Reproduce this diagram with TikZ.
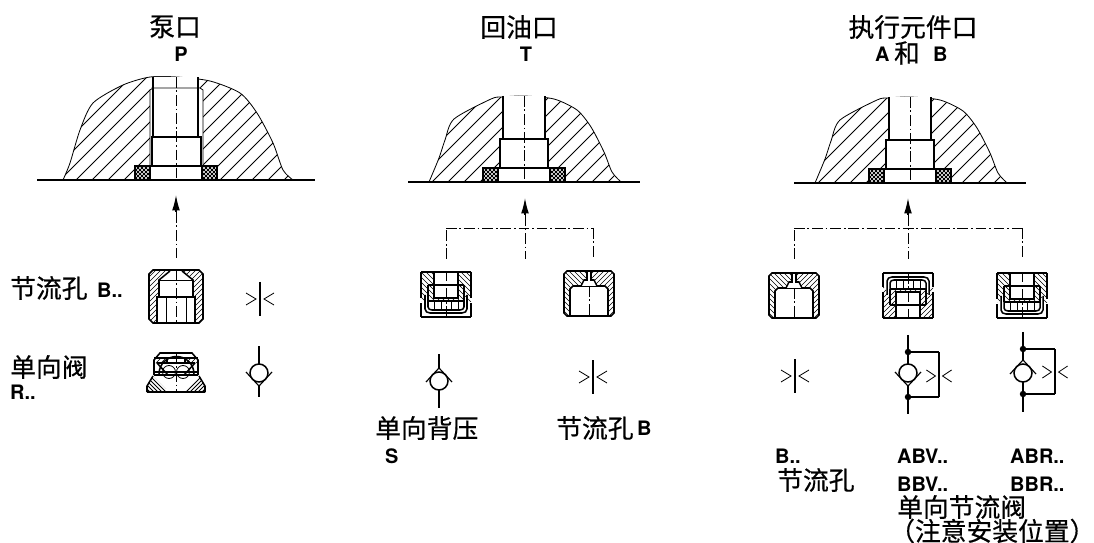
\documentclass[tikz,border=0pt]{standalone}
\usepackage{fontspec}
\setmainfont{TeX Gyre Heros}
\newfontfamily\cjk[FakeBold=0.5]{Noto Sans CJK SC}
\usetikzlibrary{calc, positioning, arrows.meta}
\tikzstyle{thinline}=[line width=0.7pt]
\tikzstyle{hatchline}=[line width=0.5pt]
\tikzstyle{boldline}=[line width=1.3pt]
\tikzstyle{symline}=[line width=1pt]
\tikzstyle{axisline}=[line width=0.7pt,dash pattern=on 9pt off 2.5pt on 1.5pt off 2.5pt]
\tikzstyle{cjklabel}=[font=\cjk\fontsize{22}{22}\selectfont,inner sep=0pt]
\tikzstyle{romanlabel}=[font=\bfseries\fontsize{17}{17}\selectfont,inner sep=0pt]
\tikzstyle{junction}=[circle,fill=black,inner sep=0pt,minimum size=5.5pt]
\tikzstyle{flowarrow}=[-{Latex[length=4.6mm,width=2.3mm]},line width=1pt]
\newcommand{\slashfill}[1]{\foreach \k in {-130,-125,...,130} \draw[hatchline] (\k,#1) -- ++(80,-80);}
\newcommand{\backfill}[1]{\foreach \k in {-130,-125,...,130} \draw[hatchline] (\k,#1) -- ++(-80,-80);}
\newcommand{\sealmesh}{
	\begin{scope}
		\clip (-41,0) rectangle (-26,-14) (26,0) rectangle (41,-14);
		\foreach \k in {-80,-76,...,80} \draw[thinline] (\k,10) -- ++(30,-30) (\k,10) -- ++(-30,-30);
	\end{scope}
	\draw[boldline] (-41,0) rectangle (-26,-14) (26,0) rectangle (41,-14);
}
\newcommand{\portbore}{
	\fill[white] (-21,-86) rectangle (21,-43) (-24,-43) rectangle (24,-14) (-41,-14) rectangle (41,0);
	\draw[boldline] (-21,-86) -- (-21,-43) -- (21,-43) -- (21,-86);
	\draw[boldline] (-24,-14) -- (-24,-43) -- (24,-43) -- (24,-14);
	\draw[boldline] (-41,0) -- (-41,-14) -- (41,-14) -- (41,0);
	\sealmesh
	\draw[axisline] (0,-86) -- (0,0);
}
\tikzset{
	pics/domeplain/.style={code={
		\begin{scope}
			\clip plot[smooth,tension=0.45] coordinates {(-95,0) (-85,-24) (-79,-42) (-70,-63) (-33,-83) (-22,-85) (0,-86) (30,-83) (53,-72) (67,-55) (80,-30) (88,-10) (97,0)} -- cycle;
			\foreach \k in {-220,-204,...,100} \draw[thinline] (\k,0) -- ++(120,-120);
		\end{scope}
		\draw[thinline] plot[smooth,tension=0.45] coordinates {(-95,0) (-85,-24) (-79,-42) (-70,-63) (-33,-83) (-22,-85) (0,-86) (30,-83) (53,-72) (67,-55) (80,-30) (88,-10) (97,0)};
		\portbore
		\draw[boldline] (-116,0) -- (116,0);
	}},
	pics/domewide/.style={code={
		\begin{scope}
			\clip plot[smooth,tension=0.45] coordinates {(-113,0) (-106,-17) (-96,-50) (-83,-77) (-53,-95) (-26,-103) (1,-103) (34,-99) (64,-87) (81,-67) (97,-37) (107,-10) (117,0)} -- cycle;
			\foreach \k in {-260,-244,...,120} \draw[thinline] (\k,0) -- ++(130,-130);
		\end{scope}
		\draw[thinline] plot[smooth,tension=0.45] coordinates {(-113,0) (-106,-17) (-96,-50) (-83,-77) (-53,-95) (-26,-103) (1,-103) (34,-99) (64,-87) (81,-67) (97,-37) (107,-10) (117,0)};
		\fill[white] (-26,-92) rectangle (27,-14) (-23,-103) rectangle (22,-92) (-41,-14) rectangle (41,0);
		\draw[thinline] (-26,-14) -- (-26,-90) -- (-23,-92) -- (24,-92) -- (27,-90) -- (27,-14);
		\draw[boldline] (-23,-103) -- (-23,-43) -- (22,-43) -- (22,-103);
		\draw[boldline] (-24,-14) -- (-24,-43) -- (25,-43) -- (25,-14);
		\draw[boldline] (-41,0) -- (-41,-14) -- (41,-14) -- (41,0);
		\sealmesh
		\draw[axisline] (0,-103) -- (0,0);
		\draw[boldline] (-139,0) -- (139,0);
	}},
	pics/orificebody/.style={code={
		\begin{scope}
			\clip (-27,4) -- (-23,0) -- (23,0) -- (27,4) -- (27,49) -- (23,53) -- (-23,53) -- (-27,49) -- cycle;
			\slashfill{60}
			\fill[white] (-6,0) -- (-17,10) -- (-17,27) -- (-19,27) -- (-19,53) -- (19,53) -- (19,27) -- (17,27) -- (17,10) -- (6,0) -- cycle;
		\end{scope}
		\draw[boldline] (-27,4) -- (-23,0) -- (23,0) -- (27,4) -- (27,49) -- (23,53) -- (-23,53) -- (-27,49) -- cycle;
		\draw[boldline] (-6,1) -- (-17,10) -- (-17,27) -- (17,27) -- (17,10) -- (6,1);
		\draw[thinline] (-17,10) -- (17,10);
		\draw[boldline] (-19,53) -- (-19,27) -- (19,27) -- (19,53);
		\draw[thinline] (-10,27) -- (-10,53) (10,27) -- (10,53);
		\draw[axisline] (0,0) -- (0,53);
	}},
	pics/capbody/.style={code={
		\begin{scope}
			\clip (-25,3) -- (-22,0) -- (22,0) -- (25,3) -- (25,42) -- (22,45) -- (-22,45) -- (-25,42) -- cycle;
			\begin{scope}
				\clip (-30,-5) rectangle (0,50);
				\backfill{60}
			\end{scope}
			\begin{scope}
				\clip (0,-5) rectangle (30,50);
				\slashfill{60}
			\end{scope}
			\fill[white] (-19,45) -- (-19,18) -- (-16,15) -- (-8,15) -- (-5,9) -- (-2,9) -- (-2,0) -- (2,0) -- (2,9) -- (5,9) -- (8,15) -- (16,15) -- (19,18) -- (19,45) -- cycle;
		\end{scope}
		\draw[boldline] (-25,3) -- (-22,0) -- (22,0) -- (25,3) -- (25,42) -- (22,45) -- (-22,45) -- (-25,42) -- cycle;
		\draw[boldline] (-19,45) -- (-19,18) -- (-16,15) -- (-8,15) -- (-5,9) -- (-2,9) -- (-2,0) (2,0) -- (2,9) -- (5,9) -- (8,15) -- (16,15) -- (19,18) -- (19,45);
		\draw[thinline] (-8,15) -- (8,15);
		\draw[axisline] (0,15) -- (0,45);
	}},
	pics/checkbody/.style={code={
		\begin{scope}
			\clip (-25,15) rectangle (25,45);
			\slashfill{60}
			\fill[white] (-22,0) rectangle (22,20) (-17,20) rectangle (17,30) (-12,20) rectangle (12,45);
		\end{scope}
		\draw[boldline] (-25,0) -- (25,0) (-25,45) -- (25,45);
		\draw[boldline] (-25,0) -- (-25,14) (25,0) -- (25,14) (-25,19) -- (-25,45) (25,19) -- (25,45);
		\draw[boldline] (-21,22) -- (-21,8) to[out=90,in=180] (-16,4) -- (16,4) to[out=0,in=90] (21,8) -- (21,22);
		\draw[boldline] (-18,22) -- (-18,10) to[out=90,in=180] (-14,7) -- (14,7) to[out=0,in=90] (18,10) -- (18,22);
		\draw[thinline] (-12,7) -- (-12,16) (-5,7) -- (-5,16) (5,7) -- (5,16) (12,7) -- (12,16);
		\draw[boldline] (-18,16) -- (18,16);
		\begin{scope}
			\clip (-18,16) rectangle (-12,32) (12,16) rectangle (18,32) (-12,16) rectangle (12,19);
			\slashfill{40}
		\end{scope}
		\draw[boldline] (-18,32) -- (-18,16) (18,32) -- (18,16) (-18,32) -- (18,32) (-12,32) -- (-12,19) -- (12,19) -- (12,32);
		\draw[boldline] (-12,32) -- (-12,45) (12,32) -- (12,45);
		\draw[axisline] (0,0) -- (0,45);
	}},
	pics/poppetbody/.style={code={
		\begin{scope}
			\clip (-29,39) -- (-29,33) -- (-23,23) -- (-10,36) -- (-10,39) -- cycle;
			\foreach \k in {-40,-36,...,0} \draw[thinline] (\k,41) -- ++(-22,-22);
		\end{scope}
		\begin{scope}
			\clip (29,39) -- (29,33) -- (23,23) -- (10,36) -- (10,39) -- cycle;
			\foreach \k in {0,4,...,40} \draw[thinline] (\k,41) -- ++(22,-22);
		\end{scope}
		\draw[boldline] (-29,39) -- (-29,33) -- (-23,23) (29,39) -- (29,33) -- (23,23) (-29,39) -- (29,39);
		\draw[boldline] (-22,22) -- (-22,7) -- (-16,0) -- (16,0) -- (22,7) -- (22,22);
		\draw[boldline] (-22,5) -- (22,5);
		\begin{scope}
			\clip (-22,5) rectangle (-9,10) (9,5) rectangle (22,10);
			\slashfill{30}
		\end{scope}
		\draw[boldline] (-19,10) -- (19,10) (-19,10) -- (-8,22) (19,10) -- (8,22);
		\draw[boldline] (-9,5) -- (-9,10) (9,5) -- (9,10);
		\draw[thinline] (-7,19) circle (6.5) (7,19) circle (6.5);
		\draw[boldline] (-22,19) -- (22,19) (-22,22) -- (22,22);
		\draw[boldline] (-17,21) arc (180:360:17.5);
		\draw[axisline] (0,0) -- (0,39);
	}},
	pics/throttlesym/.style={code={
		\draw[symline] (0,-17) -- (0,17);
		\draw[thinline] (-14,-6) -- (-4,0) -- (-14,6) (14,-6) -- (4,0) -- (14,6);
	}},
	pics/checksym/.style={code={
		\draw[boldline] (0,0) circle (9);
		\draw[symline] (-13,-1) -- (0,13) -- (13,-1);
	}}
}
\begin{document}
\begin{tikzpicture}[x=0.03cm,y=-0.03cm]
	\useasboundingbox (0,0) rectangle (1094,543);

	\node[cjklabel] (pumpname) at (175,27) {泵口};
	\node[romanlabel] (pumpport) at (181,54) {P};
	\node[cjklabel] (tankname) at (519,27) {回油口};
	\node[romanlabel] (tankport) at (526,54) {T};
	\node[cjklabel] (workname) at (913,27) {执行元件口};
	\node[romanlabel,anchor=west] (workA) at (875,54) {A};
	\node[cjklabel] (workand) at (907,53) {和};
	\node[romanlabel,anchor=west] (workB) at (933,54) {B};

	\pic at (176,180) {domewide};
	\pic at (524,182) {domeplain};
	\pic at (910,183) {domeplain};

	\coordinate (ptip) at (176,195);
	\coordinate (pmid) at (176,212);
	\coordinate (pend) at (176,258);
	\coordinate (ttip) at (525,198);
	\coordinate (tmid) at (525,215);
	\coordinate (tend) at (525,259);
	\coordinate (tleft) at (446,228);
	\coordinate (tleftend) at (446,259);
	\coordinate (tright) at (593,228);
	\coordinate (trightend) at (593,259);
	\coordinate (atip) at (908,198);
	\coordinate (amid) at (908,215);
	\coordinate (aend) at (908,259);
	\coordinate (aleft) at (794,228);
	\coordinate (aleftend) at (794,259);
	\coordinate (aright) at (1022,228);
	\coordinate (arightend) at (1022,259);

	\path
	(pmid) edge[flowarrow] (ptip)
	(pmid) edge[axisline] (pend)
	(tmid) edge[flowarrow] (ttip)
	(tmid) edge[axisline] (tend)
	(tleftend) edge[axisline] (tleft)
	(tleft) edge[axisline] (tright)
	(tright) edge[axisline] (trightend)
	(amid) edge[flowarrow] (atip)
	(amid) edge[axisline] (aend)
	(aleftend) edge[axisline] (aleft)
	(aleft) edge[axisline] (aright)
	(aright) edge[axisline] (arightend)
	;

	\pic at (176,270) {orificebody};
	\pic at (176,353) {poppetbody};
	\pic[yscale=-1] at (446,317) {checkbody};
	\pic at (589,271) {capbody};
	\pic at (794,273) {capbody};
	\pic at (908,273) {checkbody};
	\pic[yscale=-1] at (1022,318) {checkbody};

	\pic at (260,299) {throttlesym};
	\pic at (593,377) {throttlesym};
	\pic at (795,376) {throttlesym};

	\pic at (259,373) {checksym};
	\coordinate (r1) at (259,346);
	\coordinate (r2) at (259,364);
	\coordinate (r3) at (259,386);
	\coordinate (r4) at (259,397);
	\path[symline]
	(r1) edge (r2)
	(r3) edge (r4)
	;

	\pic[yscale=-1] at (439,381) {checksym};
	\coordinate (s1) at (439,354);
	\coordinate (s2) at (439,368);
	\coordinate (s3) at (439,390);
	\coordinate (s4) at (439,408);
	\path[symline]
	(s1) edge (s2)
	(s3) edge (s4)
	;

	\node[junction] (v1) at (908,352) {};
	\node[junction] (v2) at (908,397) {};
	\coordinate (v0) at (908,335);
	\coordinate (v3) at (908,414);
	\coordinate (v4) at (939,352);
	\coordinate (v5) at (939,397);
	\pic at (908,373) {checksym};
	\pic[xscale=0.9] at (939,376) {throttlesym};
	\path[symline]
	(v0) edge (v1)
	(v1) edge ($(v1)+(0,12)$)
	(v2) edge ($(v2)+(0,-11)$)
	(v2) edge (v3)
	(v1) edge (v4)
	(v2) edge (v5)
	(v4) edge (v5)
	;

	\node[junction] (w1) at (1023,349) {};
	\node[junction] (w2) at (1023,394) {};
	\coordinate (w0) at (1023,332);
	\coordinate (w3) at (1023,412);
	\coordinate (w4) at (1055,349);
	\coordinate (w5) at (1055,394);
	\pic[yscale=-1] at (1023,373) {checksym};
	\pic[xscale=0.9] at (1055,372) {throttlesym};
	\path[symline]
	(w0) edge (w1)
	(w1) edge ($(w1)+(0,11)$)
	(w2) edge ($(w2)+(0,-12)$)
	(w2) edge (w3)
	(w1) edge (w4)
	(w2) edge (w5)
	(w4) edge (w5)
	;

	\node[cjklabel,anchor=west] (orificename) at (10,288) {节流孔};
	\node[romanlabel,anchor=west] (orificecode) at (97,290) {B..};
	\node[cjklabel,anchor=west] (checkname) at (10,367) {单向阀};
	\node[romanlabel,anchor=west] (checkcode) at (10,392) {R..};
	\node[cjklabel,anchor=west] (backname) at (375,428) {单向背压};
	\node[romanlabel,anchor=west] (backcode) at (385,456) {S};
	\node[cjklabel,anchor=west] (tankorifice) at (556,428) {节流孔};
	\node[romanlabel,anchor=west] (tankcode) at (637,428) {B};
	\node[romanlabel,anchor=west] (workcode) at (775,456) {B..};
	\node[cjklabel,anchor=west] (workorifice) at (777,480) {节流孔};
	\node[romanlabel,anchor=west] (abv) at (897,456) {ABV..};
	\node[romanlabel,anchor=west] (bbv) at (897,484) {BBV..};
	\node[romanlabel,anchor=west] (abr) at (1010,456) {ABR..};
	\node[romanlabel,anchor=west] (bbr) at (1010,484) {BBR..};
	\node[cjklabel,anchor=west] (throttlecheck) at (897,507) {单向节流阀};
	\node[cjklabel,anchor=west] (mountnote) at (889,531) {（注意安装位置）\hspace{-11pt}};
\end{tikzpicture}
\end{document}
